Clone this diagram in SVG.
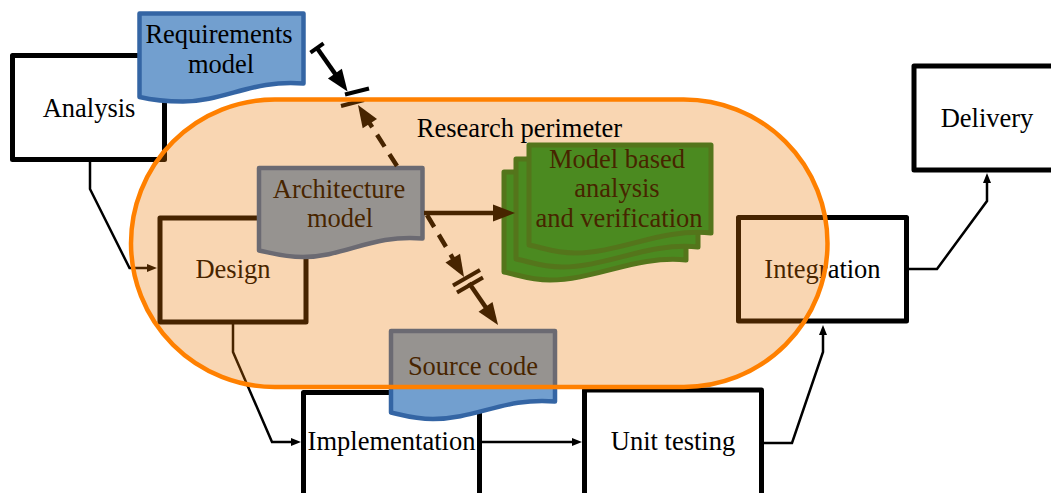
<svg xmlns="http://www.w3.org/2000/svg" width="1051" height="493" viewBox="0 0 1051 493">
<style>
.box{fill:#fff;stroke:#000;stroke-width:5;stroke-linejoin:round}
.t{font-family:"Liberation Serif","Times New Roman",serif;font-size:26.5px;fill:#000;text-anchor:middle}
.doc{fill:#729fcf;stroke:#3465a4;stroke-width:4.5;stroke-linejoin:round}
.gdoc{fill:#06932f;stroke:#137527;stroke-width:5;stroke-linejoin:round}
.thin{fill:none;stroke:#000;stroke-width:2.5;stroke-linejoin:miter}
.thick{fill:none;stroke:#000;stroke-width:4.5}
.dash{stroke-dasharray:14 9}
.mark{stroke:#000;stroke-width:4;fill:none}
</style>
<defs>
<marker id="a" markerUnits="userSpaceOnUse" viewBox="0 -5 11 10" markerWidth="11" markerHeight="10" refX="2" refY="0" orient="auto" overflow="visible">
<path d="M0,-4 L10,0 L0,4 z" fill="#000"/>
</marker>
<marker id="big" markerUnits="userSpaceOnUse" viewBox="0 -9 23 18" markerWidth="23" markerHeight="18" refX="4" refY="0" orient="auto" overflow="visible">
<path d="M0,-8.5 L22,0 L0,8.5 z" fill="#000"/>
</marker>
<marker id="tee" markerUnits="userSpaceOnUse" viewBox="-3 -9 6 18" markerWidth="6" markerHeight="18" refX="0" refY="0" orient="auto" overflow="visible">
<path d="M0,-8 L0,8" stroke="#000" stroke-width="4" fill="none"/>
</marker>
<path id="gshape" d="M529,145 H711 V233 C662,228 620,253 575,253 C555,253 542,247.5 529,245 Z"/>
</defs>

<g id="analysis">
<rect class="box" x="12.5" y="55.5" width="152" height="104"/>
<text class="t" x="89" y="117">Analysis</text>
</g>
<g id="design">
<rect class="box" x="160" y="218" width="146" height="104"/>
<text class="t" x="233" y="278">Design</text>
</g>
<g id="implementation">
<rect class="box" x="303.5" y="392.5" width="176" height="110"/>
<text class="t" x="391.5" y="450">Implementation</text>
</g>
<g id="unit-testing">
<rect class="box" x="584.5" y="390" width="177" height="112"/>
<text class="t" x="673" y="450">Unit testing</text>
</g>
<g id="integration">
<rect class="box" x="738.5" y="217.5" width="168" height="103.5"/>
<text class="t" x="822.5" y="278">Integration</text>
</g>
<g id="delivery">
<rect class="box" x="914" y="66" width="150" height="104"/>
<text class="t" x="987" y="127">Delivery</text>
</g>

<g id="requirements-model">
<path class="doc" d="M139.5,13.5 H303.5 V83.5 C254,79 224,101.5 183,101.5 C163,101.5 150,99.5 139.5,97 Z"/>
<text class="t" x="219" y="43">Requirements</text>
<text class="t" x="221" y="72.5">model</text>
</g>
<g id="architecture-model">
<path class="doc" d="M259,168 H422.5 V238.5 C373,234 344,257 303,257 C283,257 270,252.5 259,250.5 Z"/>
<text class="t" x="339" y="198">Architecture</text>
<text class="t" x="340" y="227">model</text>
</g>
<g id="source-code">
<path class="doc" d="M391,331 H555 V401.5 C506,397 476,419 433,419 C413,419 401,414.5 391,412.5 Z"/>
<text class="t" x="473" y="375">Source code</text>
</g>
<g id="model-based-analysis">
<use href="#gshape" class="gdoc" transform="translate(-25,27)"/>
<use href="#gshape" class="gdoc" transform="translate(-13,14)"/>
<use href="#gshape" class="gdoc"/>
<text class="t" x="617" y="168">Model based</text>
<text class="t" x="617" y="197">analysis</text>
<text class="t" x="619" y="227">and verification</text>
</g>

<g id="connectors">
<path class="thin" d="M90,160 V189 L129.5,268 H149" marker-end="url(#a)"/>
<path class="thin" d="M233,322 V352 L272,442 H293" marker-end="url(#a)"/>
<path class="thin" d="M480,442 H574" marker-end="url(#a)"/>
<path class="thin" d="M761.5,443 H792 L823,352 V333" marker-end="url(#a)"/>
<path class="thin" d="M906.5,269 H937 L987,201 V181" marker-end="url(#a)"/>

<path class="thick" d="M317,48 L337.2,76.8" marker-start="url(#tee)" marker-end="url(#big)"/>
<path class="mark" d="M345,94.5 L369,88.5"/>
<path class="mark" d="M341,106 L364,100"/>
<path class="thick dash" d="M397,166 L367.7,120.2" marker-end="url(#big)"/>

<path class="thick" d="M424,213 H497" marker-end="url(#big)"/>

<path class="thick dash" d="M427,215 L454.8,261.6" marker-end="url(#big)"/>
<path class="mark" d="M453,285.5 L480,270"/>
<path class="mark" d="M457,292.5 L483,277.5"/>
<path class="thick" d="M469,283 L487.8,310.2" marker-end="url(#big)"/>
</g>

<g id="research-perimeter">
<rect x="131" y="99.5" width="696.5" height="287.5" rx="143.75" ry="143.75" fill="rgb(235,118,0)" fill-opacity="0.3"/>
<rect x="131" y="99.5" width="696.5" height="287.5" rx="143.75" ry="143.75" fill="none" stroke="#ff8000" stroke-width="4.5"/>
<text class="t" x="519.5" y="137">Research perimeter</text>
</g>
</svg>
